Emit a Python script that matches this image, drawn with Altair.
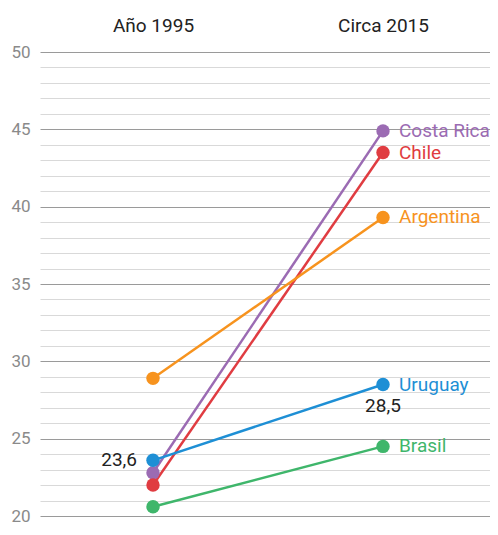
import altair as alt
import pandas as pd

countries = ["Costa Rica", "Chile", "Argentina", "Uruguay", "Brasil"]
values_1995 = [22.8, 22.0, 28.9, 23.6, 20.6]
values_2015 = [44.9, 43.5, 39.3, 28.5, 24.5]
colors = ["#9b6bb3", "#e03c41", "#f7931e", "#1e8fd5", "#3fb66b"]
periods = ["Año 1995", "Circa 2015"]

rows = []
for c, a, b in zip(countries, values_1995, values_2015):
    rows.append({"country": c, "idx": 0, "value": a})
    rows.append({"country": c, "idx": 1, "value": b})
df = pd.DataFrame(rows)

end_df = pd.DataFrame({"country": countries, "idx": [1] * 5, "value": values_2015})
ann_left = pd.DataFrame({"idx": [0], "value": [23.6], "txt": ["23,6"]})
ann_right = pd.DataFrame({"idx": [1], "value": [28.5], "txt": ["28,5"]})

FONT = "Roboto"
color_scale = alt.Scale(domain=countries, range=colors)

x = alt.X(
    "idx:Q",
    scale=alt.Scale(domain=[-0.4913, 1.4652], nice=False, zero=False),
    axis=alt.Axis(
        orient="top", values=[0, 1], tickCount=2, grid=False, domain=False, ticks=False,
        labelExpr="datum.value == 0 ? '" + periods[0] + "' : '" + periods[1] + "'",
        labelFontSize=19, labelColor="#222", labelPadding=17, labelFont=FONT,
        labelOverlap=False, labelFlush=False, title=None,
    ),
)
y = alt.Y(
    "value:Q",
    scale=alt.Scale(domain=[20, 50], nice=False, zero=False),
    axis=alt.Axis(
        values=list(range(20, 51)), tickCount=31, domain=False, ticks=False,
        labelExpr="datum.value % 5 === 0 ? datum.label : ''",
        labelFontSize=17, labelColor="#8a8a8a", labelPadding=10, labelFont=FONT,
        labelOverlap=False, labelFlush=False,
        gridColor={"condition": {"test": "datum.value % 5 === 0", "value": "#9a9a9a"}, "value": "#d9d9d9"},
        gridWidth=1, title=None,
    ),
)
col = alt.Color("country:N", scale=color_scale, legend=None)

base = alt.Chart(df)
lines = base.mark_line(strokeWidth=2.5).encode(x=x, y=y, color=col, detail="country:N")
points = base.mark_circle(size=180, opacity=1).encode(x=x, y=y, color=col)

names = alt.Chart(end_df).mark_text(align="left", baseline="middle", dx=16, fontSize=19, font=FONT).encode(
    x="idx:Q", y="value:Q", text="country:N", color=col
)
t1 = alt.Chart(ann_left).mark_text(align="right", baseline="middle", dx=-16, fontSize=19, font=FONT, color="#222").encode(
    x="idx:Q", y="value:Q", text="txt:N"
)
t2 = alt.Chart(ann_right).mark_text(align="center", baseline="middle", dy=21, fontSize=19, font=FONT, color="#222").encode(
    x="idx:Q", y="value:Q", text="txt:N"
)

chart = alt.layer(lines, points, names, t1, t2).properties(
    width=450, height=464,
    autosize=alt.AutoSizeParams(type="none"),
    padding={"left": 32, "top": 44, "right": 0, "bottom": 10},
).configure_view(stroke=None).configure_text(font=FONT)

chart.save("out.html", embed_options={"renderer": "svg", "actions": False})
